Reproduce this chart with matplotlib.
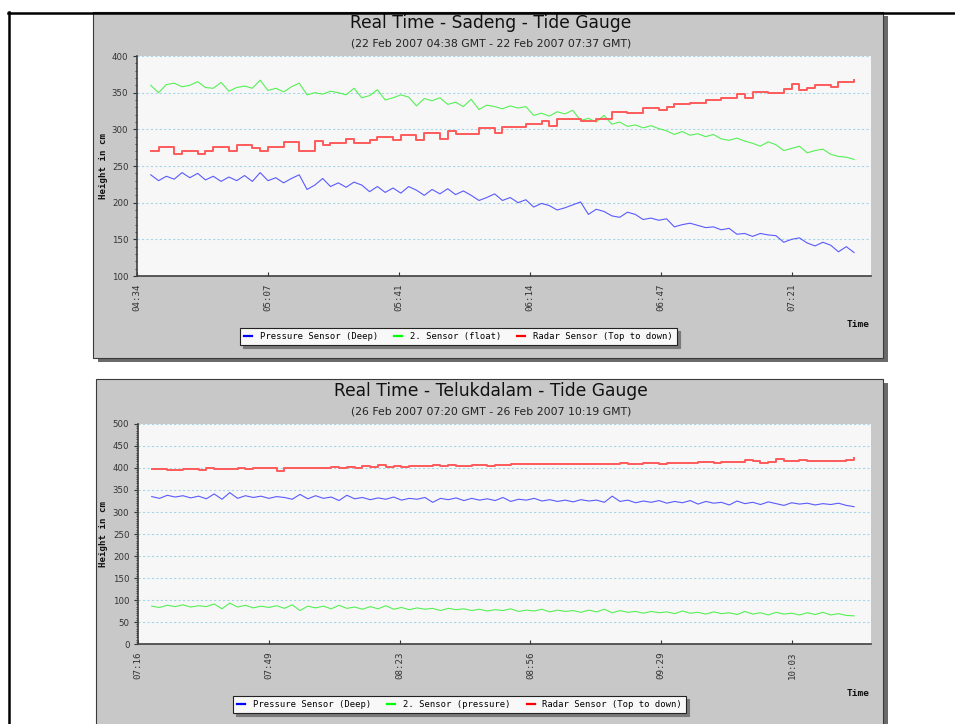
import matplotlib
matplotlib.use("Agg")
import matplotlib.pyplot as plt
from matplotlib.patches import Rectangle
from matplotlib.lines import Line2D
from matplotlib.ticker import MultipleLocator
import pandas as pd

W, H = 955, 724
MONO = "DejaVu Sans Mono"
SANS = "DejaVu Sans"

# Sadeng, 22 Feb 2007, readings every ~2 min from 04:38 to 07:37 GMT
sadeng_start = "2007-02-22 04:38"
sadeng_end = "2007-02-22 07:37"
sadeng_tick_start = "2007-02-22 04:34:30"
sadeng_ticks = ["04:34", "05:07", "05:41", "06:14", "06:47", "07:21"]
sadeng_pressure = [238, 230, 236, 232, 241, 234, 240, 231, 236, 229,
                   235, 230, 237, 229, 241, 230, 234, 227, 233, 238,
                   218, 224, 233, 222, 227, 221, 228, 224, 215, 222,
                   214, 220, 213, 222, 217, 210, 218, 212, 219, 211,
                   216, 210, 203, 207, 212, 203, 207, 200, 204, 194,
                   199, 196, 190, 193, 197, 201, 184, 191, 188, 182,
                   180, 187, 184, 177, 179, 176, 178, 167, 170, 172,
                   169, 166, 167, 163, 165, 157, 158, 154, 158, 156,
                   155, 146, 150, 152, 145, 141, 146, 142, 133, 140, 132]
sadeng_float = [360, 350, 361, 363, 358, 360, 365, 357, 356, 364,
                352, 357, 359, 356, 367, 353, 356, 351, 358, 363,
                347, 350, 348, 352, 350, 347, 356, 343, 346, 354,
                340, 343, 347, 344, 332, 342, 339, 343, 334, 337,
                331, 341, 327, 333, 331, 328, 332, 329, 331, 319,
                322, 318, 324, 321, 326, 312, 315, 310, 319, 307,
                310, 304, 306, 302, 305, 301, 298, 293, 297, 292,
                294, 290, 293, 287, 285, 288, 284, 281, 277, 283,
                279, 271, 274, 277, 268, 271, 273, 266, 263, 262, 259]
sadeng_radar = [271, 276, 276, 267, 271, 271, 267, 271, 276, 276,
                270, 278, 278, 275, 270, 276, 276, 283, 283, 271,
                271, 284, 278, 282, 282, 287, 281, 281, 286, 290,
                290, 286, 292, 292, 286, 295, 295, 287, 298, 293,
                293, 293, 302, 302, 295, 303, 303, 303, 307, 307,
                311, 305, 314, 314, 314, 311, 311, 314, 314, 323,
                323, 322, 322, 329, 329, 326, 331, 334, 334, 336,
                336, 340, 340, 343, 343, 348, 343, 351, 351, 349,
                349, 355, 362, 353, 356, 360, 360, 358, 364, 364, 367]

# Telukdalam, 26 Feb 2007, readings every ~2 min from 07:20 to 10:19 GMT
teluk_start = "2007-02-26 07:20"
teluk_end = "2007-02-26 10:19"
teluk_tick_start = "2007-02-26 07:16:30"
teluk_ticks = ["07:16", "07:49", "08:23", "08:56", "09:29", "10:03"]
teluk_pressure = [335, 331, 338, 334, 337, 332, 336, 330, 341, 329,
                  344, 331, 337, 333, 336, 331, 335, 333, 329, 340,
                  330, 337, 331, 334, 326, 338, 330, 333, 328, 332,
                  329, 334, 327, 331, 329, 333, 322, 331, 328, 332,
                  326, 331, 327, 330, 326, 333, 324, 329, 327, 331,
                  325, 328, 324, 327, 323, 328, 325, 327, 322, 336,
                  324, 327, 321, 325, 322, 326, 320, 324, 321, 326,
                  318, 324, 320, 322, 316, 325, 319, 322, 317, 323,
                  319, 315, 321, 318, 320, 316, 319, 317, 320, 315, 312]
teluk_sensor2 = [86, 83, 88, 85, 89, 84, 87, 85, 91, 80,
                 93, 84, 88, 82, 86, 83, 87, 81, 89, 76,
                 86, 82, 86, 80, 88, 81, 84, 79, 85, 80,
                 87, 79, 83, 78, 82, 79, 81, 76, 81, 78,
                 80, 76, 79, 75, 78, 76, 80, 74, 77, 75,
                 79, 73, 77, 74, 76, 72, 77, 73, 79, 71,
                 76, 72, 74, 70, 74, 71, 73, 69, 75, 70,
                 72, 68, 73, 69, 71, 67, 74, 68, 71, 66,
                 72, 68, 70, 66, 71, 67, 72, 66, 69, 65, 64]
teluk_radar = [397, 398, 396, 395, 397, 398, 396, 399, 397, 397,
               397, 399, 397, 399, 400, 400, 394, 399, 400, 399,
               401, 400, 401, 402, 400, 403, 401, 404, 402, 407,
               403, 404, 403, 404, 405, 404, 406, 405, 406, 405,
               405, 406, 407, 405, 407, 407, 409, 408, 408, 409,
               408, 408, 409, 408, 410, 409, 409, 410, 410, 409,
               411, 410, 410, 411, 411, 410, 412, 411, 412, 411,
               413, 413, 412, 414, 414, 413, 418, 417, 412, 413,
               420, 417, 417, 418, 416, 417, 415, 416, 417, 419, 422]


def fig_rect(x0, y0, x1, y1):
    # pixel box (top-left origin) -> figure fraction [left, bottom, width, height]
    return [x0 / W, 1 - y1 / H, (x1 - x0) / W, (y1 - y0) / H]


def add_panel(fig, x0, y0, x1, y1):
    l, b, w, h = fig_rect(x0, y0, x1, y1)
    fig.add_artist(Rectangle((l + 5 / W, b - 4 / H), w, h, transform=fig.transFigure,
                             facecolor="#6a6a6a", edgecolor="none", zorder=-3))
    fig.add_artist(Rectangle((l, b), w, h, transform=fig.transFigure,
                             facecolor="#c8c8c8", edgecolor="#3a3a3a", linewidth=0.8, zorder=-2))


def draw_chart(fig, ax, start, end, tick_start, tick_labels, pressure, sensor2, radar,
               sensor2_label, ymax, minor_step, title, subtitle, title_y, legend_xy, time_y):
    times = pd.date_range(start, end, periods=len(pressure))
    ax.set_facecolor("#f7f7f7")
    ax.plot(times, pressure, color="#5a5aff", lw=0.8)
    ax.plot(times, sensor2, color="#55f055", lw=0.8)
    ax.plot(times, radar, color="#ff5a5a", lw=1.4, drawstyle="steps-post")

    t0 = pd.Timestamp(tick_start)
    ax.set_xlim(t0, t0 + pd.Timedelta(minutes=186.8))
    ax.set_xticks(pd.date_range(t0, periods=len(tick_labels), freq="2000s"))
    ax.set_xticklabels(tick_labels, family=MONO)
    ax.tick_params(axis="x", direction="in", length=3, width=0.8, pad=5.2,
                   labelsize=6.6, labelrotation=90, colors="#333333")

    ax.set_ylim(ymax - (ymax - 100 if ymax == 400 else ymax), ymax)
    ax.yaxis.set_major_locator(MultipleLocator(50))
    ax.yaxis.set_minor_locator(MultipleLocator(minor_step))
    ax.tick_params(axis="y", which="major", direction="out", length=3, width=0.8, pad=3.2,
                   labelsize=6.2, colors="#333333")
    ax.tick_params(axis="y", which="minor", direction="out", length=1.6, width=0.6, colors="#333333")
    for lab in ax.get_yticklabels():
        lab.set_family(SANS)

    ax.yaxis.grid(True, color="#a6d6e8", linestyle=(0, (2, 2)), linewidth=0.8)
    ax.set_axisbelow(True)
    for side in ["top", "right"]:
        ax.spines[side].set_visible(False)
    for side in ["left", "bottom"]:
        ax.spines[side].set_color("#404040")
        ax.spines[side].set_linewidth(1.2)

    # titles
    fig.text(491 / W, 1 - title_y / H, title, ha="center", va="baseline",
             family=SANS, fontsize=12.3, color="#111111")
    fig.text(491 / W, 1 - (title_y + 19) / H, subtitle, ha="center", va="baseline",
             family=SANS, fontsize=7.8, color="#222222")

    # axis labels
    bb = ax.get_position()
    fig.text(103.7 / W, bb.y0 + bb.height / 2, "Height in cm", rotation=90, ha="center",
             va="center", family=MONO, weight="bold", fontsize=6.6, color="#111111")
    fig.text(870 / W, 1 - time_y / H, "Time", ha="right", va="center",
             family=MONO, weight="bold", fontsize=6.8, color="#111111")

    handles = [Line2D([], [], color="blue", lw=1.6),
               Line2D([], [], color="#00ff00", lw=1.6),
               Line2D([], [], color="red", lw=1.6)]
    labels = ["Pressure Sensor (Deep)", sensor2_label, "Radar Sensor (Top to down)"]
    leg = ax.legend(handles, labels, loc="center",
                    bbox_to_anchor=(legend_xy[0] / W, 1 - legend_xy[1] / H),
                    bbox_transform=fig.transFigure, ncol=3,
                    prop={"family": MONO, "size": 6.4}, frameon=True, fancybox=False,
                    shadow={"color": "#7a7a7a", "alpha": 1}, edgecolor="#222222",
                    facecolor="#f8f8f8", framealpha=1, handlelength=0.9,
                    handletextpad=0.9, columnspacing=1.8, borderpad=0.45)
    leg.get_frame().set_linewidth(0.8)


fig = plt.figure(figsize=(W / 100, H / 100), dpi=100)
fig.patch.set_facecolor("white")

add_panel(fig, 93, 12, 883, 358)
add_panel(fig, 96, 379, 883, 780)

ax1 = fig.add_axes(fig_rect(137, 56, 871, 276))
ax2 = fig.add_axes(fig_rect(138, 424, 871, 644))

draw_chart(fig, ax1, sadeng_start, sadeng_end, sadeng_tick_start, sadeng_ticks,
           sadeng_pressure, sadeng_float, sadeng_radar, "2. Sensor (float)", 400, 10,
           "Real Time - Sadeng - Tide Gauge",
           "(22 Feb 2007 04:38 GMT - 22 Feb 2007 07:37 GMT)", 28, (458.5, 336.5), 325)
draw_chart(fig, ax2, teluk_start, teluk_end, teluk_tick_start, teluk_ticks,
           teluk_pressure, teluk_sensor2, teluk_radar, "2. Sensor (pressure)", 500, 5,
           "Real Time - Telukdalam - Tide Gauge",
           "(26 Feb 2007 07:20 GMT - 26 Feb 2007 10:19 GMT)", 396, (459.5, 704.5), 693)

# page frame
fig.add_artist(Line2D([8 / W, 1], [1 - 12.8 / H] * 2, color="black", lw=1.8,
                      transform=fig.transFigure, zorder=5))
fig.add_artist(Line2D([9.2 / W] * 2, [1 - 12 / H, 0], color="black", lw=1.8,
                      transform=fig.transFigure, zorder=5))

fig.savefig("out.png", dpi=100)
